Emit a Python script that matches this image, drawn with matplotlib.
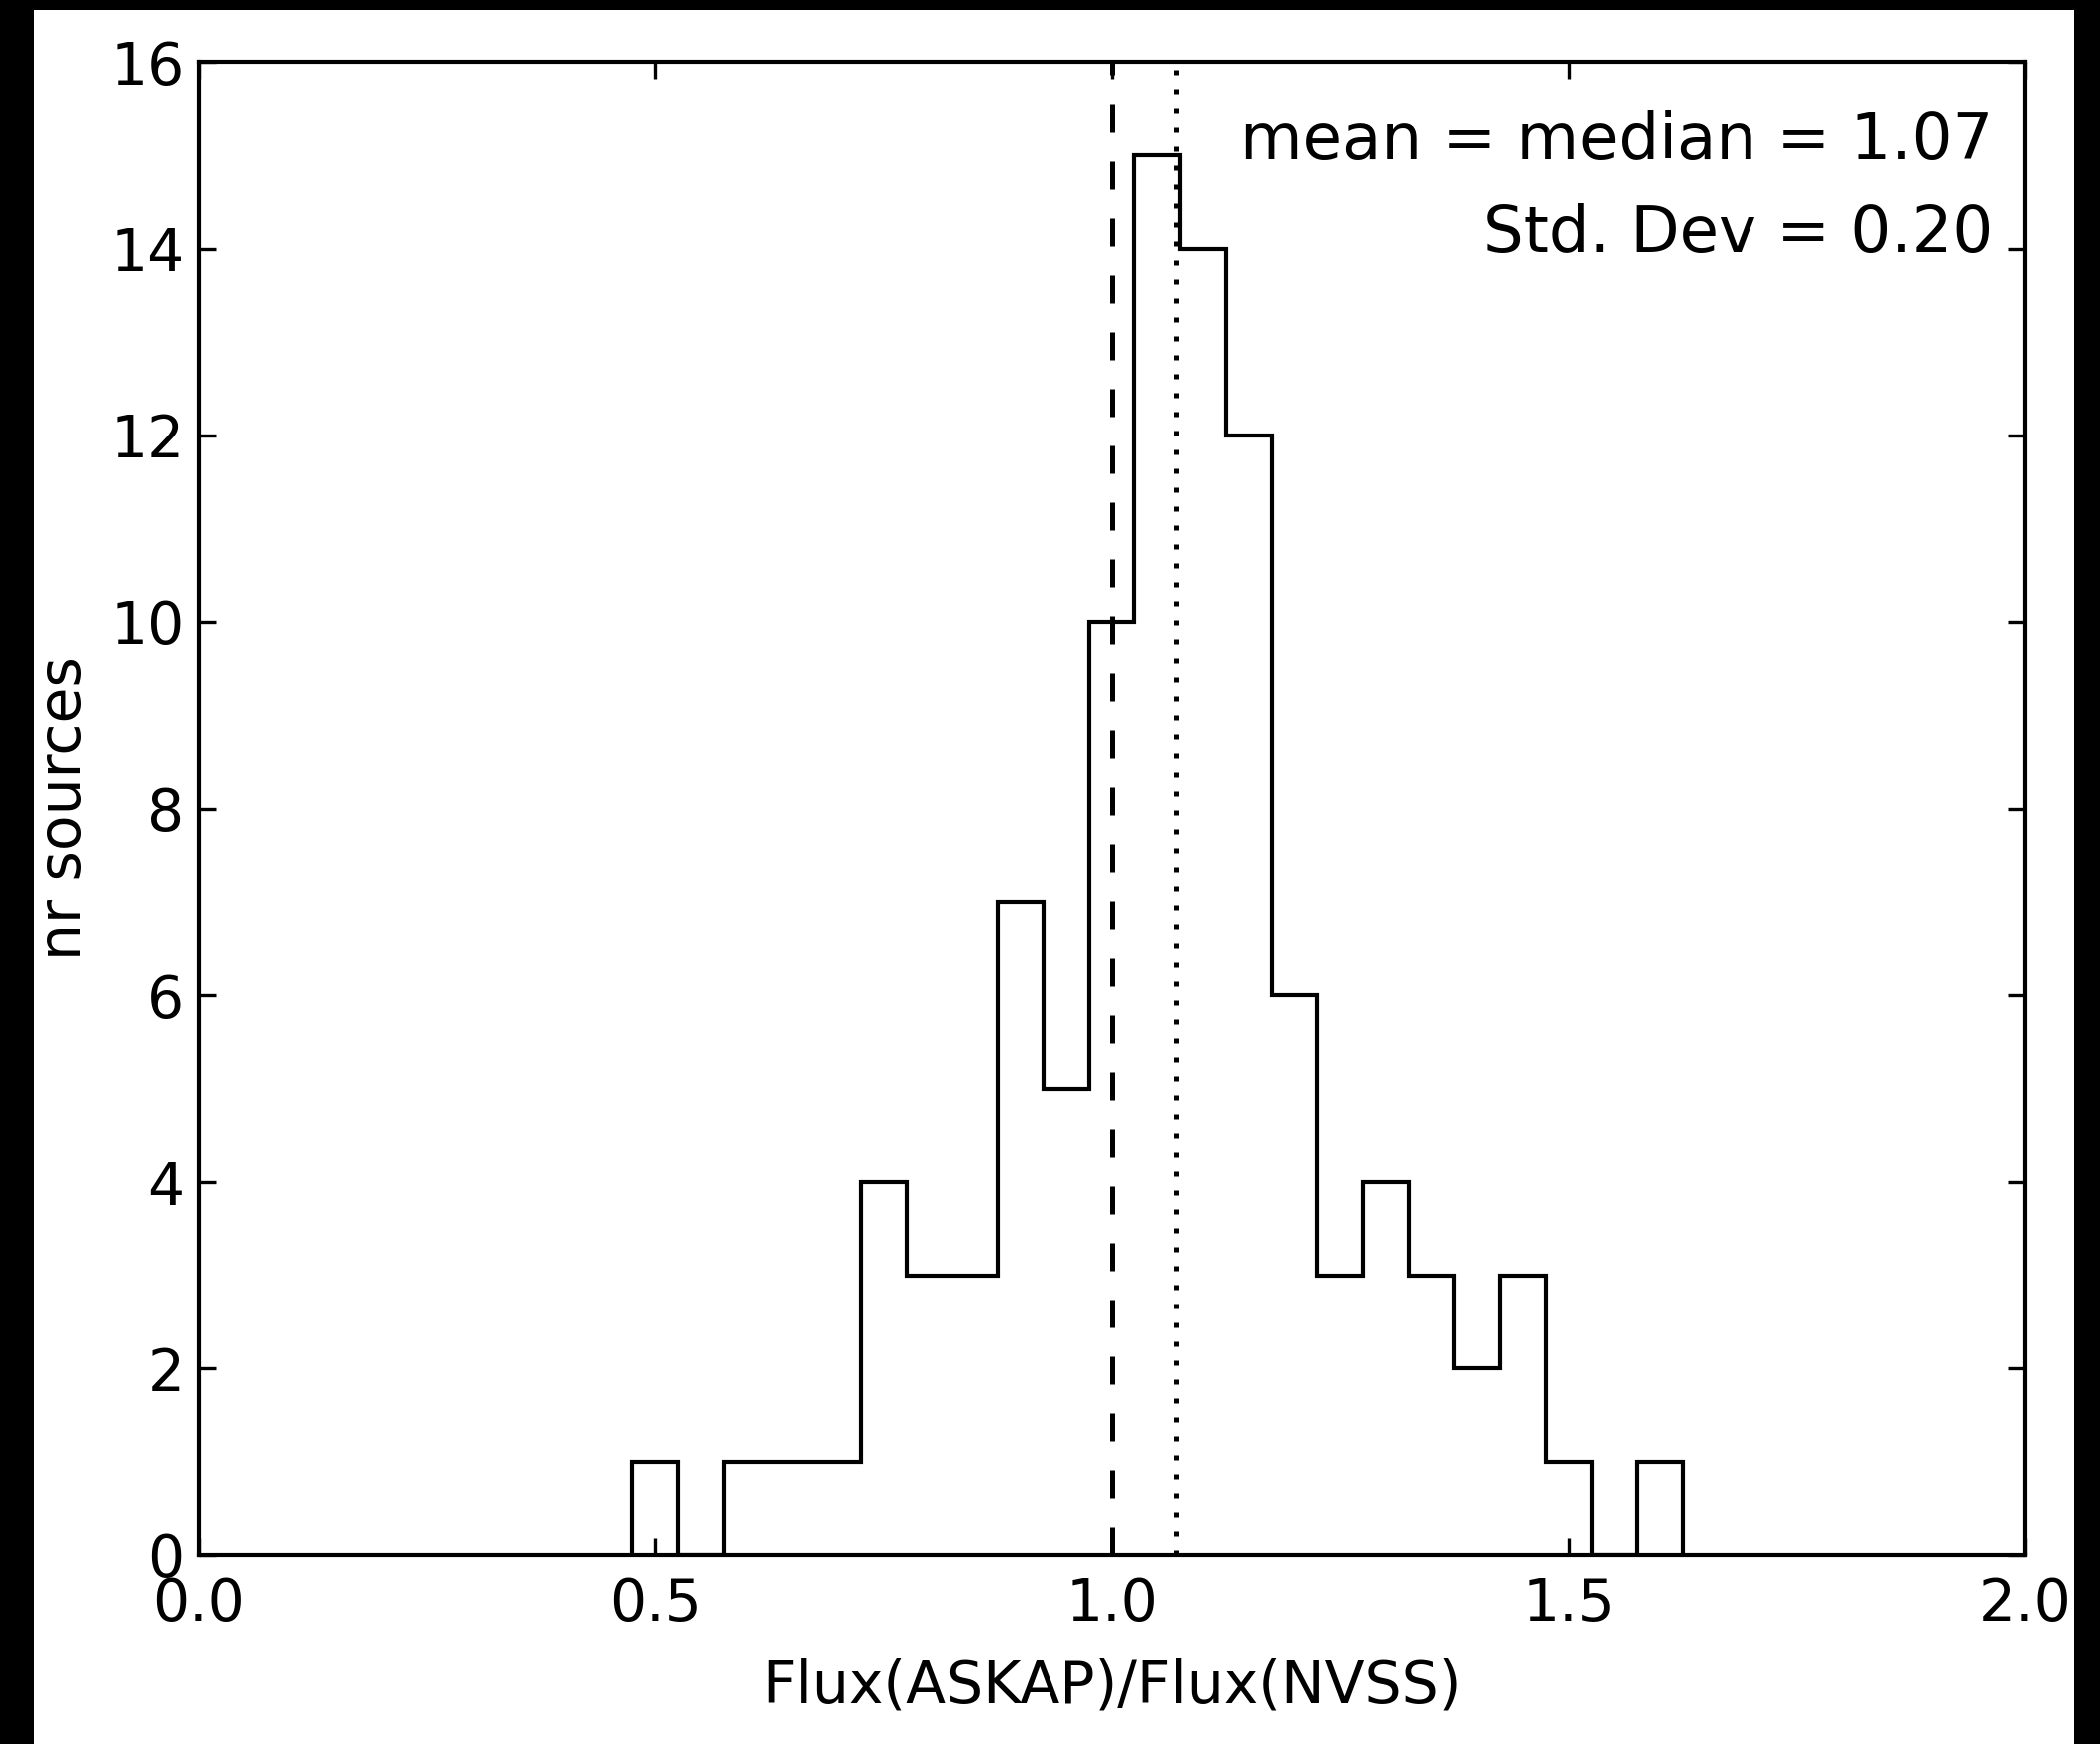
import matplotlib.pyplot as plt
import matplotlib.patches as mpatches
import numpy as np

# histogram of flux ratios (bin edges 0.475 .. 1.625, width 0.05)
bin_edges = np.arange(0.475, 1.6251, 0.05)
counts = [1, 0, 1, 1, 1, 4, 3, 3, 7, 5, 10, 15, 14, 12, 6, 3, 4, 3, 2, 3, 1, 0, 1]
median_val = 1.0
mean_val = 1.07
stats_lines = ['mean = median = 1.07', 'Std. Dev = 0.20']

plt.rcParams['font.family'] = ['DejaVu Sans']
plt.rcParams['xtick.direction'] = 'in'
plt.rcParams['ytick.direction'] = 'in'

fig = plt.figure(figsize=(2103 / 300, 1746 / 300), dpi=300, facecolor='black')
# white page with a black frame around it
fig.patches.append(mpatches.Rectangle((34 / 2103, 0), (2077 - 34) / 2103, 1 - 10 / 1746,
                                      transform=fig.transFigure, facecolor='white',
                                      edgecolor='none', zorder=-1))

ax = fig.add_axes([199 / 2103, 1 - 1557 / 1746, (2028 - 199) / 2103, (1557 - 62) / 1746])

ax.stairs(counts, bin_edges, color='black', linewidth=1.0)
ax.axvline(median_val, color='black', linewidth=1.2, dashes=(5.6, 5.8))
ax.axvline(mean_val, color='black', linewidth=1.2, dashes=(1, 2.8))

ax.set_xlim(0, 2)
ax.set_ylim(0, 16)
ax.set_xticks([0.0, 0.5, 1.0, 1.5, 2.0])
ax.set_xticklabels(['0.0', '0.5', '1.0', '1.5', '2.0'])
ax.set_yticks(range(0, 17, 2))
ax.tick_params(which='both', top=True, right=True, length=4, width=0.8,
               labelsize=14, color='black')
ax.tick_params(axis='x', pad=5)
ax.tick_params(axis='y', pad=3.5)
for s in ax.spines.values():
    s.set_linewidth(1.0)

ax.set_xlabel('Flux(ASKAP)/Flux(NVSS)', fontsize=14, labelpad=6)
ax.set_ylabel('nr sources', fontsize=14)
ax.yaxis.set_label_coords(-0.058, 0.5)

ax.text(0.9825, 0.947, stats_lines[0], transform=ax.transAxes, ha='right', va='center', fontsize=15.4)
ax.text(0.9825, 0.885, stats_lines[1], transform=ax.transAxes, ha='right', va='center', fontsize=15.4)

fig.savefig('out.png', dpi=300, facecolor='black')
